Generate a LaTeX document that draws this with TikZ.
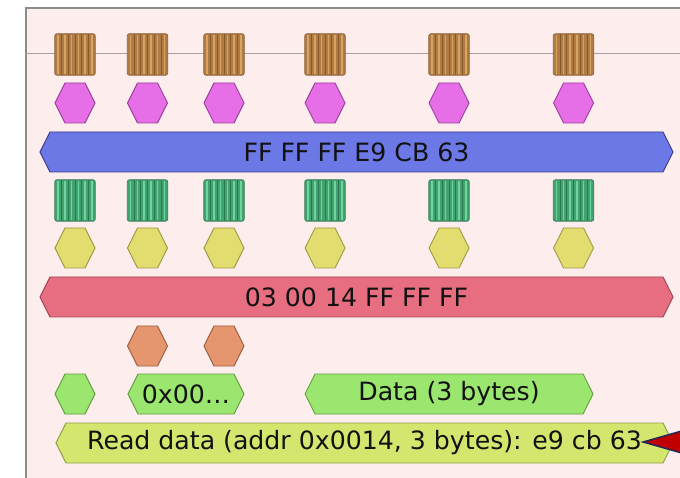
\documentclass[tikz,border=0pt]{standalone}
\usepackage{fontspec}
\setmainfont{DejaVu Sans}
\usetikzlibrary{calc}
\definecolor{framefill}{HTML}{FDEDED}
\definecolor{framedraw}{HTML}{8C8C8C}
\definecolor{wire}{HTML}{A8A0A0}
\definecolor{txt}{HTML}{121212}
\definecolor{brownbase}{HTML}{B07C44}
\definecolor{browndark}{HTML}{86592C}
\definecolor{brownlight}{HTML}{D8A464}
\definecolor{greenbase}{HTML}{42A270}
\definecolor{greendark}{HTML}{2A7650}
\definecolor{greenlight}{HTML}{70D49E}
\definecolor{pinkfill}{HTML}{E66EE6}
\definecolor{pinkdraw}{HTML}{9C409C}
\definecolor{bluefill}{HTML}{6B78E6}
\definecolor{bluedraw}{HTML}{3A3F8A}
\definecolor{yelfill}{HTML}{E3DC6E}
\definecolor{yeldraw}{HTML}{A09A44}
\definecolor{redfill}{HTML}{E66E80}
\definecolor{reddraw}{HTML}{A04454}
\definecolor{orfill}{HTML}{E6966E}
\definecolor{ordraw}{HTML}{9C6244}
\definecolor{grfill}{HTML}{9AE66E}
\definecolor{grdraw}{HTML}{62A044}
\definecolor{ygfill}{HTML}{D4E66E}
\definecolor{ygdraw}{HTML}{90A044}
\definecolor{markred}{HTML}{C00000}
\definecolor{marknavy}{HTML}{1A2A5A}
\newcommand\hexbar[7]{%
  \draw[fill=#5, draw=#6, line width=0.9pt, line join=miter]
    (#2,#4) -- (#2+10,#4-20) -- (#3-10,#4-20) -- (#3,#4) -- (#3-10,#4+20) -- (#2+10,#4+20) -- cycle;
  \node[labeltext] (#1) at ({(#2+#3)/2},#4) {#7};}
% coil: name, cx, cy, colour prefix
\newcommand\coilat[4]{%
  \node[coilbox=#4] (#1) at (#2,#3) {};
  \foreach \i in {0,...,5}{
    \draw[#4light, line width=1.4pt] ($(#1.north west)!{(\i+0.5)/6}!(#1.north east)+(0,1.5)$) -- ($(#1.south west)!{(\i+0.5)/6}!(#1.south east)+(0,-1.5)$);
  }
  \foreach \i in {1,...,5}{
    \draw[#4dark, line width=0.9pt] ($(#1.north west)!{\i/6}!(#1.north east)+(0,0.5)$) -- ($(#1.south west)!{\i/6}!(#1.south east)+(0,-0.5)$);
  }
  \draw[#4dark, line width=0.7pt, rounded corners=2pt] (#1.north west) rectangle (#1.south east);
}
\tikzset{
  labeltext/.style={inner sep=0pt, text=txt, font=\fontsize{25.2}{30}\selectfont},
  coilbox/.style={minimum width=40pt, minimum height=41pt, inner sep=0pt,
    rounded corners=2pt, fill=#1base},
}
\begin{document}
\begin{tikzpicture}[x=1pt, y=-1pt]
\useasboundingbox (0,0) rectangle (680,478);
\clip (0,0) rectangle (680,478);
\fill[white] (0,0) rectangle (680,478);
\draw[fill=framefill, draw=framedraw, line width=1.3pt] (26,8) rectangle (700,500);
% wire
\coordinate (wl) at (26,53);
\coordinate (wr) at (690,53);
\draw[wire, line width=0.9pt] (wl) -- (wr);
% coils
\foreach \n/\cx in {1/75, 2/147.5, 3/224, 4/325, 5/449, 6/573.5}{
  \coilat{bc\n}{\cx}{54.5}{brown}
  \coilat{gc\n}{\cx}{200.5}{green}
}
% pink and yellow hexagons
\foreach \n/\cx in {1/75, 2/147.5, 3/224, 4/325, 5/449, 6/573.5}{
  \hexbar{ph\n}{\cx-20}{\cx+20}{103}{pinkfill}{pinkdraw}{}
  \hexbar{yh\n}{\cx-20}{\cx+20}{248}{yelfill}{yeldraw}{}
}
% blue bar
\hexbar{blue}{40}{673}{152}{bluefill}{bluedraw}{FF FF FF E9 CB 63}
% red bar
\hexbar{red}{40}{673}{297}{redfill}{reddraw}{03 00 14 FF FF FF}
% orange
\hexbar{oh1}{127.5}{167.5}{346}{orfill}{ordraw}{}
\hexbar{oh2}{204}{244}{346}{orfill}{ordraw}{}
% green row
\hexbar{gh1}{55}{95}{394}{grfill}{grdraw}{}
\hexbar{addr}{128}{244}{394}{grfill}{grdraw}{0x00…}
\hexbar{data}{305}{593}{394}{grfill}{grdraw}{Data (3 bytes)}
% read data bar
\hexbar{read}{56}{673}{443}{ygfill}{ygdraw}{Read data (addr 0x0014, 3 bytes): e9 cb 63}
% marker
\coordinate (mk) at (643,442);
\draw[fill=markred, draw=marknavy, line width=1.4pt, line join=miter] (mk) -- (720,420) -- (720,464) -- cycle;
\end{tikzpicture}
\end{document}
